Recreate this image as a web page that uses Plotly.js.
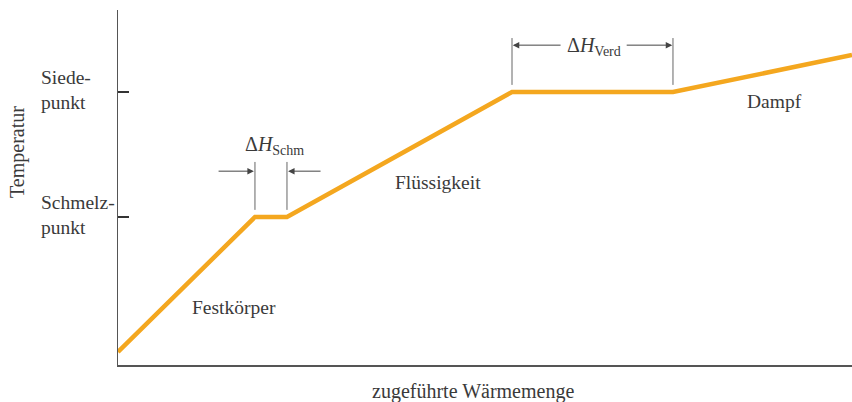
<!DOCTYPE html>
<html>
<head>
<meta charset="utf-8">
<script src="https://cdn.plot.ly/plotly-3.0.1.min.js"></script>
<style>html,body{margin:0;padding:0;background:#fff;}#chart{width:852px;height:402px;}</style>
</head>
<body>
<div id="chart"></div>
<script>
// Heating curve (arbitrary units)
const heat = [0, 18.66, 23.02, 53.68, 75.61, 100];
const temperature = [3.66, 41.69, 41.69, 76.9, 76.9, 87.32];
const meltTemp = 41.69;
const boilTemp = 76.9;
const tickLabels = ["Schmelz-<br>punkt", "Siede-<br>punkt"];
const phaseLabels = ["Festkörper", "Flüssigkeit", "Dampf"];
const phasePos = [[15.8, 16.1], [43.6, 51.5], [89.5, 74.1]];

const FONT = "Liberation Serif, Times New Roman, serif";
const TXT = "#3a3a3a";
const LINEC = "#555";

const shapes = [];
const annotations = [];

// dimension lines
function vline(x, y0, y1) {
  shapes.push({type: "line", xref: "x", yref: "y", x0: x, x1: x, y0: y0, y1: y1,
    line: {color: "#666", width: 1}});
}
function arrow(xTail, xHead, y) {
  annotations.push({xref: "x", yref: "y", axref: "x", ayref: "y", x: xHead, y: y, ax: xTail, ay: y,
    text: "", showarrow: true, arrowhead: 2, arrowsize: 1.3, arrowwidth: 1, arrowcolor: "#444"});
}
// Schmelzwärme
vline(heat[1], 43.7, 57.2);
vline(heat[2], 43.7, 57.2);
arrow(13.5, heat[1] - 0.15, 54.6);
arrow(27.8, heat[2] + 0.15, 54.6);
annotations.push({xref: "x", yref: "y", x: 21.3, y: 61.7, showarrow: false,
  text: "Δ<i>H</i><sub>Schm</sub>", font: {family: FONT, size: 20, color: TXT}});
// Verdampfungswärme
vline(heat[3], 78.9, 92.1);
vline(heat[4], 78.9, 92.1);
arrow(60.5, heat[3] + 0.1, 90.1);
arrow(69.1, heat[4] - 0.1, 90.1);
annotations.push({xref: "x", yref: "y", x: 64.85, y: 89.8, showarrow: false,
  text: "Δ<i>H</i><sub>Verd</sub>", font: {family: FONT, size: 20, color: TXT}});

// phase labels
phaseLabels.forEach((t, i) => annotations.push({xref: "x", yref: "y", x: phasePos[i][0], y: phasePos[i][1],
  text: t, showarrow: false, font: {family: FONT, size: 19.5, color: TXT}}));

// y tick labels (left aligned)
[meltTemp, boilTemp].forEach((v, i) => annotations.push({xref: "paper", yref: "y", x: -0.108, y: v + 0.6,
  xanchor: "left", yanchor: "middle", align: "left", text: tickLabels[i], showarrow: false,
  font: {family: FONT, size: 19.5, color: TXT}}));

// axis titles
annotations.push({xref: "paper", yref: "paper", x: -0.1376, y: 0.6, xanchor: "center", yanchor: "middle",
  textangle: -90, showarrow: false,
  text: "Temperatur", font: {family: FONT, size: 20, color: TXT}});
annotations.push({xref: "paper", yref: "paper", x: 0.484, y: -0.076, xanchor: "center", yanchor: "middle",
  showarrow: false,
  text: "zugeführte Wärmemenge", font: {family: FONT, size: 20, color: TXT}});

const trace = {x: heat, y: temperature, type: "scatter", mode: "lines",
  line: {color: "#f4a71f", width: 4.5}, hoverinfo: "skip", cliponaxis: false};

const layout = {
  width: 852, height: 402,
  margin: {l: 118, r: 0, t: 10, b: 37},
  paper_bgcolor: "#fff", plot_bgcolor: "#fff",
  showlegend: false,
  xaxis: {range: [0, 100], showgrid: false, zeroline: false, showline: true, linecolor: LINEC, linewidth: 1.5,
    showticklabels: false, ticks: ""},
  yaxis: {range: [0, 100], showgrid: false, zeroline: false, showline: true, linecolor: LINEC, linewidth: 1.5,
    tickvals: [meltTemp, boilTemp], ticks: "inside", ticklen: 11, tickwidth: 1.5, tickcolor: "#333",
    showticklabels: false},
  shapes: shapes,
  annotations: annotations
};

Plotly.newPlot("chart", [trace], layout, {staticPlot: true, displayModeBar: false});
</script>
</body>
</html>
